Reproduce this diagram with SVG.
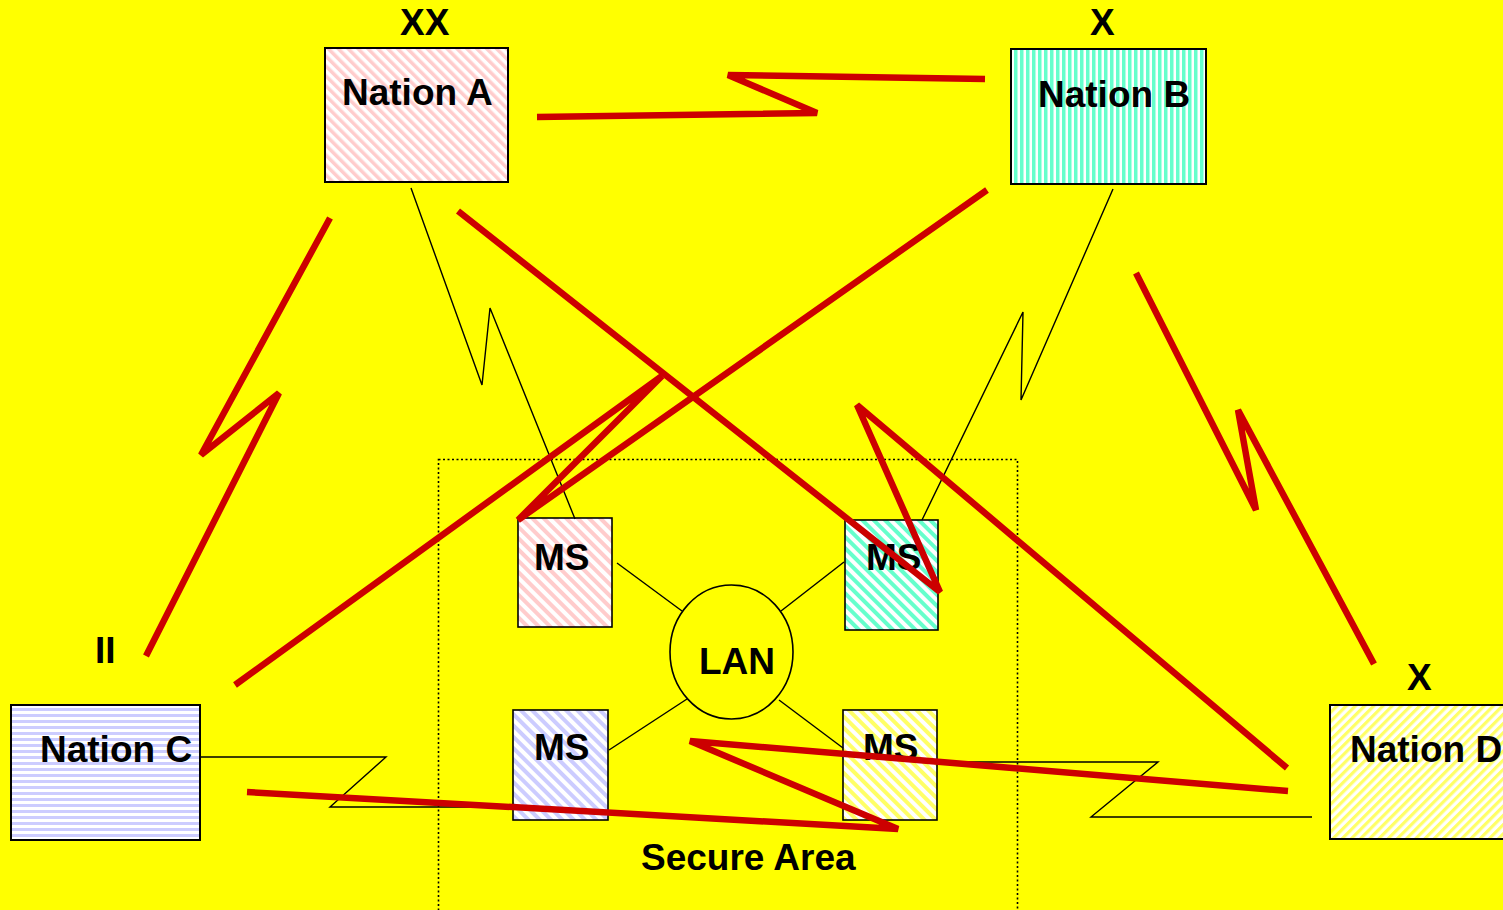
<svg xmlns="http://www.w3.org/2000/svg" width="1503" height="910" viewBox="0 0 1503 910">
<style>
.lbl{font-family:"Liberation Sans",Arial,sans-serif;font-weight:bold;font-size:37px;fill:#000}
.box{stroke:#000;stroke-width:2}
.ms{stroke:#000;stroke-width:1.6}
.wire{fill:none;stroke:#000;stroke-width:1.4;stroke-linejoin:miter}
.red{fill:none;stroke:#CC0000;stroke-width:6.5;stroke-linecap:butt;stroke-linejoin:bevel}
</style>
<defs>
<pattern id="pA" patternUnits="userSpaceOnUse" width="7" height="7" patternTransform="rotate(-45)"><rect width="7" height="7" fill="#fff"/><rect width="3.5" height="7" fill="#FFCCCC"/></pattern>
<pattern id="pB" patternUnits="userSpaceOnUse" width="6" height="6"><rect width="6" height="6" fill="#fff"/><rect width="3.5" height="6" fill="#66FFCC"/></pattern>
<pattern id="pC" patternUnits="userSpaceOnUse" width="6" height="6"><rect width="6" height="6" fill="#fff"/><rect width="6" height="3" fill="#CCCCFF"/></pattern>
<pattern id="pD" patternUnits="userSpaceOnUse" width="6.5" height="6.5" patternTransform="rotate(45)"><rect width="6.5" height="6.5" fill="#fff"/><rect width="3.2" height="6.5" fill="#FFFF66"/></pattern>
<pattern id="mPink" patternUnits="userSpaceOnUse" width="8" height="8" patternTransform="rotate(-45)"><rect width="8" height="8" fill="#fff"/><rect width="4" height="8" fill="#FFCCCC"/></pattern>
<pattern id="mGreen" patternUnits="userSpaceOnUse" width="8" height="8" patternTransform="rotate(-45)"><rect width="8" height="8" fill="#fff"/><rect width="4" height="8" fill="#66FFCC"/></pattern>
<pattern id="mBlue" patternUnits="userSpaceOnUse" width="8" height="8" patternTransform="rotate(-45)"><rect width="8" height="8" fill="#fff"/><rect width="4" height="8" fill="#CCCCFF"/></pattern>
<pattern id="mYellow" patternUnits="userSpaceOnUse" width="8" height="8" patternTransform="rotate(-45)"><rect width="8" height="8" fill="#fff"/><rect width="4" height="8" fill="#FFFF66"/></pattern>
</defs>
<rect width="1503" height="910" fill="#FFFF00"/>

<g id="secureArea">
<rect x="438.5" y="459.5" width="579" height="470" fill="none" stroke="#000" stroke-width="1.6" stroke-dasharray="2,2.5"/>
<text class="lbl" x="641" y="870">Secure Area</text>
</g>

<g id="nationA">
<rect class="box" x="325" y="48" width="183" height="134" fill="url(#pA)"/>
<text class="lbl" x="342" y="105">Nation A</text>
<text class="lbl" x="400" y="35">XX</text>
</g>
<g id="nationB">
<rect class="box" x="1011" y="49" width="195" height="135" fill="url(#pB)"/>
<text class="lbl" x="1038" y="107">Nation B</text>
<text class="lbl" x="1090" y="35">X</text>
</g>
<g id="nationC">
<rect class="box" x="11" y="705" width="189" height="135" fill="url(#pC)"/>
<text class="lbl" x="40" y="762">Nation C</text>
<text class="lbl" x="95" y="663">II</text>
</g>
<g id="nationD">
<rect class="box" x="1330" y="705" width="185" height="134" fill="url(#pD)"/>
<text class="lbl" x="1350" y="762">Nation D</text>
<text class="lbl" x="1407" y="690">X</text>
</g>

<g id="msPink">
<rect class="ms" x="518" y="518" width="94" height="109" fill="url(#mPink)"/>
<text class="lbl" x="534" y="570">MS</text>
</g>
<g id="msGreen">
<rect class="ms" x="845" y="520" width="93" height="110" fill="url(#mGreen)"/>
<text class="lbl" x="866" y="570">MS</text>
</g>
<g id="msBlue">
<rect class="ms" x="513" y="710" width="95" height="110" fill="url(#mBlue)"/>
<text class="lbl" x="534" y="760">MS</text>
</g>
<g id="msYellow">
<rect class="ms" x="843" y="710" width="94" height="110" fill="url(#mYellow)"/>
<text class="lbl" x="863" y="760">MS</text>
</g>
<g id="lan">
<ellipse cx="731.5" cy="652" rx="61.5" ry="67" fill="none" stroke="#000" stroke-width="1.6"/>
<text class="lbl" x="699" y="674">LAN</text>
</g>

<g id="connectors">
<line class="wire" x1="617" y1="563" x2="682" y2="611"/>
<line class="wire" x1="844" y1="562" x2="781" y2="611"/>
<line class="wire" x1="609" y1="750" x2="687" y2="699"/>
<line class="wire" x1="779" y1="700" x2="843" y2="748"/>
<polyline class="wire" points="411,188 482,385 490,308 575,519"/>
<polyline class="wire" points="1113,189 1021,400 1023,312 922,520"/>
<polyline class="wire" points="201,757 386,757 330,807 513,807"/>
<polyline class="wire" points="1312,817 1091,817 1158,762 937,762"/>

<polyline class="red" points="537,117 817,113 728,75 985,79"/>
<polyline class="red" points="330,218 201,455 279,393 146,656"/>
<polyline class="red" points="1136,273 1256,510 1238,410 1374,664"/>
<polyline class="red" points="458,211 940,592 857,405 1287,768"/>
<polyline class="red" points="987,190 518,520 662,376 235,685"/>
<polyline class="red" points="247,792 898,829 690,741 1288,791"/>
</g>
</svg>
